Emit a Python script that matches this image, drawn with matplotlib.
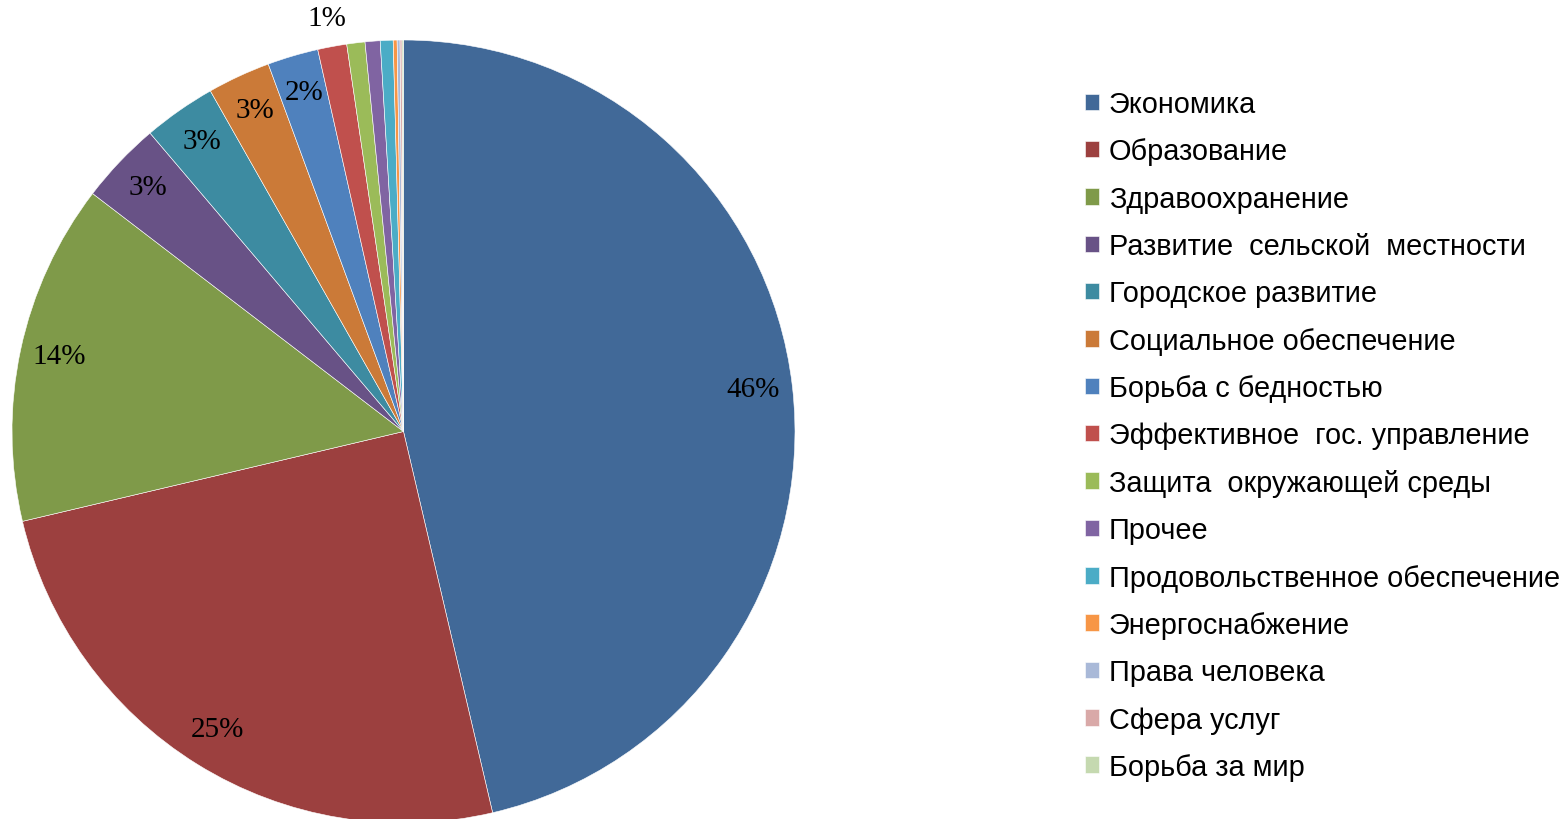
import numpy as np
import matplotlib
matplotlib.use("Agg")
import matplotlib.pyplot as plt

categories = [
    "Экономика", "Образование", "Здравоохранение", "Развитие  сельской  местности",
    "Городское развитие", "Социальное обеспечение", "Борьба с бедностью",
    "Эффективное  гос. управление", "Защита  окружающей среды", "Прочее",
    "Продовольственное обеспечение", "Энергоснабжение", "Права человека",
    "Сфера услуг", "Борьба за мир",
]
values = [46.4, 25.0, 14.1, 3.4, 3.0, 2.6, 2.1, 1.2, 0.75, 0.62, 0.53, 0.16, 0.12, 0.08, 0.06]
colors = ["#416998", "#9C403F", "#7F9A49", "#685286", "#3D8BA1", "#CB7A38",
          "#4F81BD", "#C0504D", "#9BBB59", "#8064A2", "#4BACC6", "#F79646",
          "#A9B9D8", "#D9A9A8", "#C5D9B0"]
n_labeled = 8

W, H = 1565, 820
fig = plt.figure(figsize=(W / 100, H / 100), dpi=100)
cx, cy, r = 403.5, 432.5, 391.5
ax = fig.add_axes([(cx - r) / W, (H - cy - r) / H, 2 * r / W, 2 * r / H])

wedges, _ = ax.pie(values, colors=colors, startangle=90, counterclock=False,
                   radius=1.0, wedgeprops=dict(edgecolor="white", linewidth=0.4))
ax.set_xlim(-1, 1)
ax.set_ylim(-1, 1)
ax.set_axis_off()

total = sum(values)
for i, (w, v) in enumerate(zip(wedges, values)):
    if i >= n_labeled:
        continue
    ang = np.deg2rad((w.theta1 + w.theta2) / 2)
    pct = v / total * 100
    dist = 0.90 if pct >= 1.5 else 1.068
    ax.text(dist * np.cos(ang), dist * np.sin(ang) + 0.005, f"{pct:.0f}%",
            ha="center", va="center", fontsize=21, family="Liberation Serif",
            color="black", clip_on=False)

leg = fig.legend(wedges, categories, loc="upper left",
                 bbox_to_anchor=(1085 / W, 1 - 91 / H), frameon=False,
                 prop=dict(family="Liberation Sans", size=20.8),
                 handlelength=0.5, handleheight=0.5, handletextpad=0.33,
                 labelspacing=0.67, borderpad=0, borderaxespad=0)

fig.savefig("out.png", dpi=100)
